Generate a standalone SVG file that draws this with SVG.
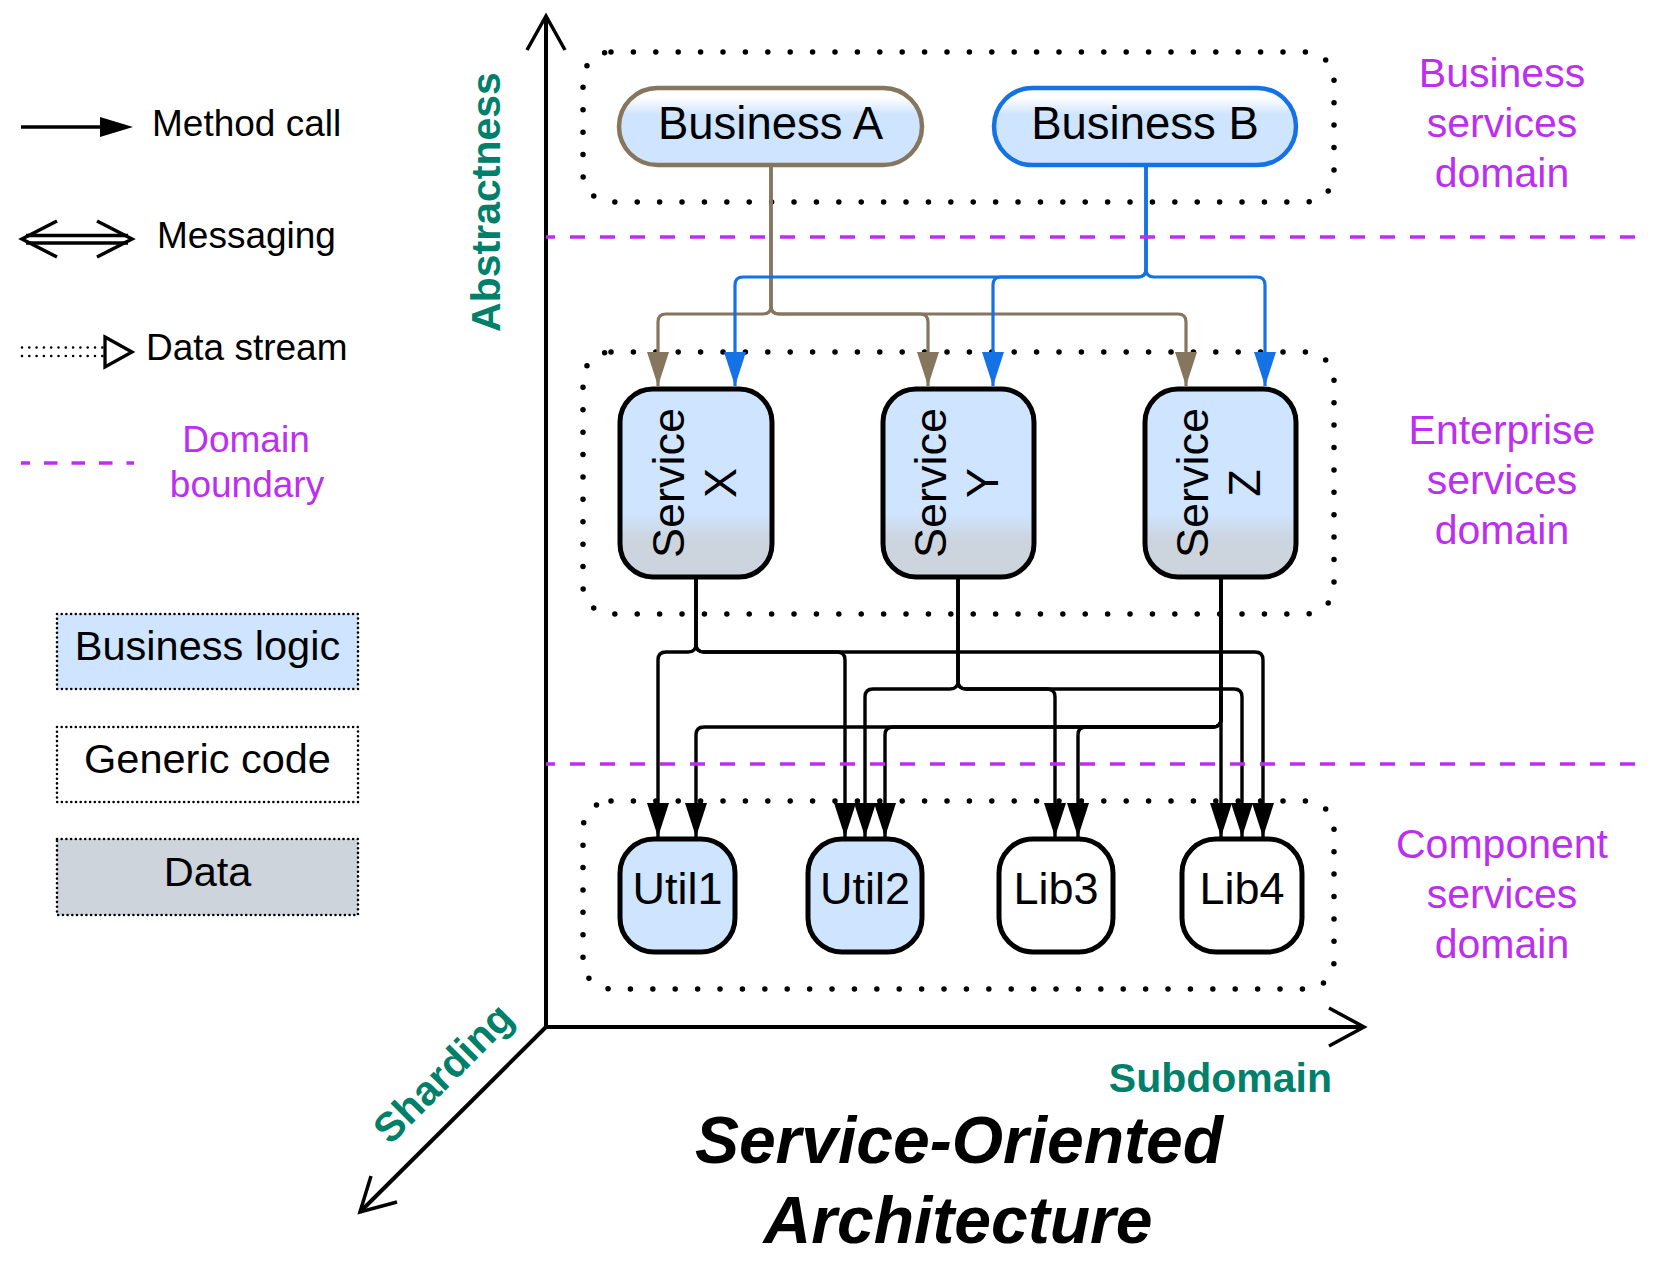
<svg xmlns="http://www.w3.org/2000/svg" width="1658" height="1262" viewBox="0 0 1658 1262">
<style>
  text { font-family: "Liberation Sans", Arial, sans-serif; }
  .lbl { font-size: 37px; fill: #000; }
  .leg { font-size: 41.5px; fill: #000; text-anchor: middle; }
  .node { font-size: 45px; fill: #000; text-anchor: middle; }
  .pill { font-size: 45.5px; fill: #000; text-anchor: middle; }
  .purple { fill: #bd2ff0; font-size: 41px; text-anchor: middle; }
  .axis-lbl { fill: #00806a; font-size: 41px; font-weight: bold; }
  .title { font-size: 66px; font-weight: bold; font-style: italic; fill: #000; text-anchor: middle; }
  .container { fill: none; stroke: #000; stroke-width: 5.5; stroke-linecap: round; stroke-dasharray: 0 22.4; }
  .legbox { stroke: #000; stroke-width: 2.6; stroke-linecap: round; stroke-dasharray: 0 4.7; }
  .boundary { fill: none; stroke: #bd2ff0; stroke-width: 3.5; stroke-dasharray: 15 15; stroke-dashoffset: 6; }
  .axis { fill: none; stroke: #000; stroke-width: 4; }
  .chev { fill: none; stroke: #000; stroke-width: 3.5; }
  .svc { fill: url(#svcGrad); stroke: #000; stroke-width: 5; }
  .util { stroke: #000; stroke-width: 5; }
  .c-brown { fill: none; stroke: #86765e; stroke-width: 3.2; marker-end: url(#arrBrown); }
  .c-blue { fill: none; stroke: #1472e4; stroke-width: 3.2; marker-end: url(#arrBlue); }
  .c-black { fill: none; stroke: #000; stroke-width: 3.4; marker-end: url(#arrBlack); }
</style>
<defs>
  <linearGradient id="svcGrad" x1="0" y1="0" x2="0" y2="1">
    <stop offset="0" stop-color="#cfe4ff"/>
    <stop offset="0.66" stop-color="#cfe4ff"/>
    <stop offset="0.8" stop-color="#ccd5df"/>
    <stop offset="1" stop-color="#ccd3dc"/>
  </linearGradient>
  <linearGradient id="pillGrad" x1="0" y1="0" x2="0" y2="1">
    <stop offset="0" stop-color="#ffffff"/>
    <stop offset="0.12" stop-color="#ffffff"/>
    <stop offset="0.35" stop-color="#cfe4ff"/>
    <stop offset="1" stop-color="#cfe4ff"/>
  </linearGradient>
  <marker id="arrBrown" markerUnits="userSpaceOnUse" viewBox="0 0 34 22" markerWidth="34" markerHeight="22" refX="34" refY="11" orient="auto">
    <path d="M0,0 L34,11 L0,22 z" fill="#86765e"/>
  </marker>
  <marker id="arrBlue" markerUnits="userSpaceOnUse" viewBox="0 0 34 22" markerWidth="34" markerHeight="22" refX="34" refY="11" orient="auto">
    <path d="M0,0 L34,11 L0,22 z" fill="#1472e4"/>
  </marker>
  <marker id="arrBlack" markerUnits="userSpaceOnUse" viewBox="0 0 34 22" markerWidth="34" markerHeight="22" refX="34" refY="11" orient="auto">
    <path d="M0,0 L34,11 L0,22 z" fill="#000"/>
  </marker>
</defs>
<rect width="1658" height="1262" fill="#fff"/>

<!-- Legend -->
<g id="legend">
  <g id="legend-method-call">
    <line x1="21" y1="127" x2="102" y2="127" stroke="#000" stroke-width="3.5"/>
    <path d="M100,117 L133,127 L100,137 z" fill="#000"/>
    <text class="lbl" x="152" y="136">Method call</text>
  </g>
  <g id="legend-messaging">
    <line x1="26" y1="235.5" x2="128" y2="235.5" stroke="#000" stroke-width="3.3"/>
    <line x1="26" y1="243" x2="128" y2="243" stroke="#000" stroke-width="3.3"/>
    <polyline class="chev" points="57,221 22,239 57,257"/>
    <polyline class="chev" points="97,221 132,239 97,257"/>
    <text class="lbl" x="157" y="248">Messaging</text>
  </g>
  <g id="legend-data-stream">
    <line x1="22" y1="347.5" x2="104" y2="347.5" stroke="#000" stroke-width="2.6" stroke-linecap="round" stroke-dasharray="0 7.3"/>
    <line x1="22" y1="356" x2="104" y2="356" stroke="#000" stroke-width="2.6" stroke-linecap="round" stroke-dasharray="0 7.3"/>
    <path d="M105,337 L132,352 L105,367 z" fill="#fff" stroke="#000" stroke-width="3.3"/>
    <text class="lbl" x="146" y="360">Data stream</text>
  </g>
  <g id="legend-domain-boundary">
    <line x1="21" y1="463" x2="134" y2="463" stroke="#bd2ff0" stroke-width="3.5" stroke-dasharray="13.5 14" stroke-dashoffset="4.5"/>
    <text class="purple" x="246" y="452" style="font-size:37px">Domain</text>
    <text class="purple" x="247" y="497" style="font-size:37px">boundary</text>
  </g>
  <g id="legend-business-logic">
    <rect class="legbox" x="57" y="614" width="301" height="75" fill="#cfe4fe"/>
    <text class="leg" x="207.5" y="660">Business logic</text>
  </g>
  <g id="legend-generic-code">
    <rect class="legbox" x="57" y="727" width="301" height="75" fill="#fff"/>
    <text class="leg" x="207.5" y="773">Generic code</text>
  </g>
  <g id="legend-data">
    <rect class="legbox" x="57" y="839" width="301" height="76" fill="#cdd4dc"/>
    <text class="leg" x="207.5" y="886">Data</text>
  </g>
</g>

<!-- Axes -->
<g id="axes">
  <line class="axis" x1="546" y1="1027" x2="546" y2="17"/>
  <polyline class="chev" points="527,50 546,16 565,50"/>
  <line class="axis" x1="546" y1="1027" x2="1364" y2="1027"/>
  <polyline class="chev" points="1329,1008 1364,1027 1329,1046"/>
  <line class="axis" x1="546" y1="1027" x2="360" y2="1212"/>
  <polyline class="chev" points="371,1176 360,1212 397,1202"/>
  <text class="axis-lbl" transform="translate(500,202) rotate(-90)" text-anchor="middle">Abstractness</text>
  <text class="axis-lbl" transform="translate(453,1083) rotate(-45)" text-anchor="middle">Sharding</text>
  <text class="axis-lbl" x="1332" y="1092" text-anchor="end">Subdomain</text>
</g>

<!-- Domain containers -->
<g id="containers">
  <rect id="business-domain" class="container" x="583" y="52" width="751" height="150" rx="28"/>
  <rect id="enterprise-domain" class="container" x="583" y="352" width="751" height="262" rx="28"/>
  <rect id="component-domain" class="container" x="583" y="801" width="751" height="188" rx="28"/>
</g>

<!-- Connectors -->
<g id="connectors">
  <path class="c-brown" d="M771,166 V306 Q771,314 763,314 H666 Q658,314 658,322 V386"/>
  <path class="c-brown" d="M771,166 V306 Q771,314 779,314 H920 Q928,314 928,322 V386"/>
  <path class="c-brown" d="M771,166 V306 Q771,314 779,314 H1178 Q1186,314 1186,322 V386"/>
  <path class="c-blue" d="M1146,166 V269 Q1146,277 1138,277 H743 Q735,277 735,285 V386"/>
  <path class="c-blue" d="M1146,166 V269 Q1146,277 1138,277 H1001 Q993,277 993,285 V386"/>
  <path class="c-blue" d="M1146,166 V269 Q1146,277 1154,277 H1257 Q1265,277 1265,285 V386"/>

  <path class="c-black" d="M696,578 V644 Q696,652 688,652 H666 Q658,652 658,660 V837"/>
  <path class="c-black" d="M696,578 V644 Q696,652 704,652 H837 Q845,652 845,660 V837"/>
  <path class="c-black" d="M696,578 V644 Q696,652 704,652 H1255 Q1263,652 1263,660 V837"/>

  <path class="c-black" d="M958,578 V681 Q958,689 950,689 H873 Q865,689 865,697 V837"/>
  <path class="c-black" d="M958,578 V681 Q958,689 966,689 H1047 Q1055,689 1055,697 V837"/>
  <path class="c-black" d="M958,578 V681 Q958,689 966,689 H1234 Q1242,689 1242,697 V837"/>

  <path class="c-black" d="M1221,578 V837"/>
  <path class="c-black" d="M1221,578 V719 Q1221,727 1213,727 H704 Q696,727 696,735 V837"/>
  <path class="c-black" d="M1221,578 V719 Q1221,727 1213,727 H893 Q885,727 885,735 V837"/>
  <path class="c-black" d="M1221,578 V719 Q1221,727 1213,727 H1086 Q1078,727 1078,735 V837"/>
</g>

<!-- Domain boundaries -->
<g id="boundaries">
  <line class="boundary" x1="546" y1="237" x2="1636" y2="237"/>
  <line class="boundary" x1="546" y1="764" x2="1636" y2="764"/>
</g>

<!-- Nodes -->
<g id="business-a">
  <rect x="619" y="88" width="303" height="77" rx="38.5" fill="url(#pillGrad)" stroke="#86765e" stroke-width="4.5"/>
  <text class="pill" x="770.5" y="139">Business A</text>
</g>
<g id="business-b">
  <rect x="994" y="88" width="302" height="77" rx="38.5" fill="url(#pillGrad)" stroke="#1472e4" stroke-width="4.5"/>
  <text class="pill" x="1145" y="139">Business B</text>
</g>

<g id="service-x">
  <rect class="svc" x="620" y="389" width="152" height="188" rx="33"/>
  <text class="node" transform="translate(684,483) rotate(-90)">Service</text>
  <text class="node" transform="translate(736,483) rotate(-90)">X</text>
</g>
<g id="service-y">
  <rect class="svc" x="883" y="389" width="151" height="188" rx="33"/>
  <text class="node" transform="translate(946,483) rotate(-90)">Service</text>
  <text class="node" transform="translate(998,483) rotate(-90)">Y</text>
</g>
<g id="service-z">
  <rect class="svc" x="1145" y="389" width="151" height="188" rx="33"/>
  <text class="node" transform="translate(1208,483) rotate(-90)">Service</text>
  <text class="node" transform="translate(1260,483) rotate(-90)">Z</text>
</g>

<g id="util1">
  <rect class="util" x="620" y="839" width="115" height="113" rx="34" fill="#cfe4ff"/>
  <text class="node" x="677.5" y="904">Util1</text>
</g>
<g id="util2">
  <rect class="util" x="808" y="839" width="114" height="113" rx="34" fill="#cfe4ff"/>
  <text class="node" x="865" y="904">Util2</text>
</g>
<g id="lib3">
  <rect class="util" x="999" y="839" width="114" height="113" rx="34" fill="#fff"/>
  <text class="node" x="1056" y="904">Lib3</text>
</g>
<g id="lib4">
  <rect class="util" x="1182" y="839" width="120" height="113" rx="34" fill="#fff"/>
  <text class="node" x="1242" y="904">Lib4</text>
</g>

<!-- Domain labels -->
<g id="domain-labels">
  <text class="purple" x="1502" y="87">Business</text>
  <text class="purple" x="1502" y="137">services</text>
  <text class="purple" x="1502" y="187">domain</text>
  <text class="purple" x="1502" y="444">Enterprise</text>
  <text class="purple" x="1502" y="494">services</text>
  <text class="purple" x="1502" y="544">domain</text>
  <text class="purple" x="1502" y="858">Component</text>
  <text class="purple" x="1502" y="908">services</text>
  <text class="purple" x="1502" y="958">domain</text>
</g>

<!-- Title -->
<g id="title">
  <text class="title" x="959" y="1163">Service-Oriented</text>
  <text class="title" x="958" y="1243">Architecture</text>
</g>
</svg>
